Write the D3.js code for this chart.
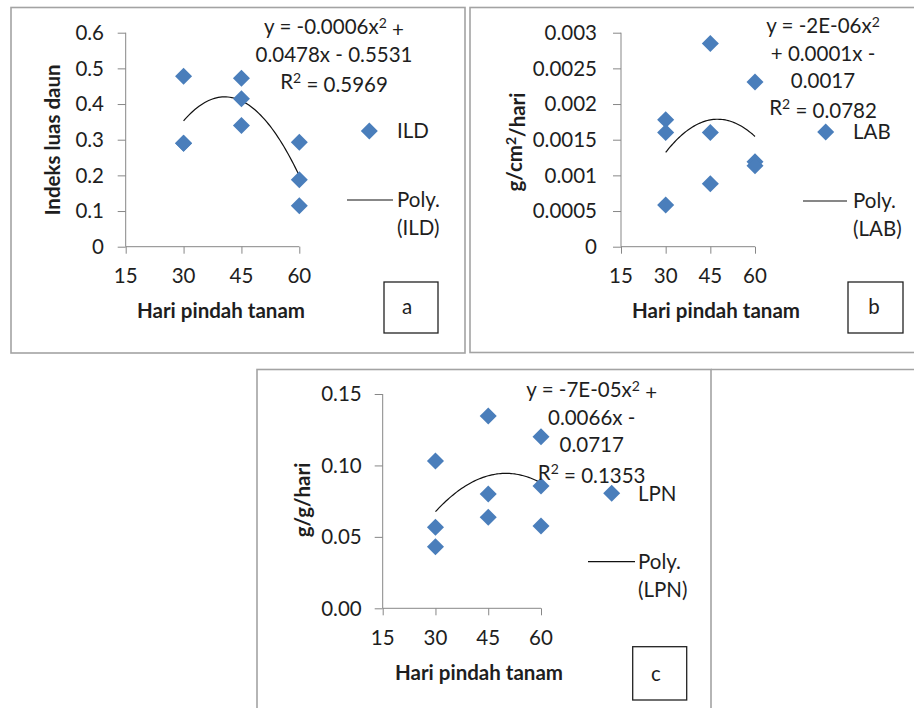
<!DOCTYPE html>
<html>
<head>
<meta charset="utf-8">
<script src="https://cdn.jsdelivr.net/npm/d3@7"></script>
<style>
  body { margin: 0; background: #fff; }
  text { font-family: Lato, "Open Sans", sans-serif; fill: #1e1e1e; }
  .tick-label { font-size: 20.5px; }
  .axis-title { font-size: 20.5px; font-weight: bold; }
</style>
</head>
<body>
<div id="chart"></div>
<script>
// days after transplanting, three replicates per treatment
var xDays = [30, 30, 30, 45, 45, 45, 60, 60, 60];

// leaf area index (ILD)
var ildValues = [0.478, 0.290, 0.290, 0.472, 0.415, 0.340, 0.293, 0.188, 0.115];
// net assimilation rate (LAB)
var labValues = [0.00178, 0.00160, 0.000585, 0.00285, 0.00160, 0.000883, 0.00231, 0.00119, 0.001136];
// relative growth rate (LPN)
var lpnValues = [0.1031, 0.0567, 0.0431, 0.1346, 0.0800, 0.0637, 0.1201, 0.0856, 0.0576];

var xTicks = [15, 30, 45, 60];
var ildTicks = [0, 0.1, 0.2, 0.3, 0.4, 0.5, 0.6];
var ildTickLabels = ["0", "0.1", "0.2", "0.3", "0.4", "0.5", "0.6"];
var labTicks = [0, 0.0005, 0.001, 0.0015, 0.002, 0.0025, 0.003];
var labTickLabels = ["0", "0.0005", "0.001", "0.0015", "0.002", "0.0025", "0.003"];
var lpnTicks = [0, 0.05, 0.10, 0.15];
var lpnTickLabels = ["0.00", "0.05", "0.10", "0.15"];

// "^2" marks a superscript two
var ildEquation = ["y = -0.0006x^2 +", "0.0478x - 0.5531", "R^2 = 0.5969"];
var labEquation = ["y = -2E-06x^2", "+ 0.0001x -", "0.0017", "R^2 = 0.0782"];
var lpnEquation = ["y = -7E-05x^2 +", "0.0066x -", "0.0717", "R^2 = 0.1353"];

var markerColor = "#4a7ebb";
var axisColor = "#878787";

var svg = d3.select("#chart")
  .append("svg")
  .attr("width", 914)
  .attr("height", 708);

// write a label, turning "^2" into a raised small 2
function setRich(sel, str, supSize) {
  str.split("^2").forEach(function(part, i) {
    if (i > 0) {
      sel.append("tspan").attr("dy", "-0.45em").style("font-size", supSize).text("2");
      sel.append("tspan").attr("dy", "0.45em").text(part);
    } else {
      sel.append("tspan").text(part);
    }
  });
}

// least squares quadratic fit y = a x^2 + b x + c
function quadFit(xs, ys) {
  var n = xs.length, s = [0, 0, 0, 0, 0], t = [0, 0, 0];
  for (var i = 0; i < n; i++) {
    var p = 1;
    for (var k = 0; k < 5; k++) { s[k] += p; if (k < 3) t[k] += p * ys[i]; p *= xs[i]; }
  }
  // solve 3x3 normal equations with cramer's rule
  var M = [[s[4], s[3], s[2]], [s[3], s[2], s[1]], [s[2], s[1], s[0]]];
  var R = [t[2], t[1], t[0]];
  function det(m) {
    return m[0][0] * (m[1][1] * m[2][2] - m[1][2] * m[2][1])
         - m[0][1] * (m[1][0] * m[2][2] - m[1][2] * m[2][0])
         + m[0][2] * (m[1][0] * m[2][1] - m[1][1] * m[2][0]);
  }
  var D = det(M);
  return [0, 1, 2].map(function(col) {
    var m = M.map(function(row, r) { return row.map(function(v, c) { return c === col ? R[r] : v; }); });
    return det(m) / D;
  });
}

function drawPanel(cfg) {
  var g = svg.append("g");

  // panel frame
  g.append("rect")
    .attr("x", cfg.frame[0]).attr("y", cfg.frame[1])
    .attr("width", cfg.frame[2]).attr("height", cfg.frame[3])
    .attr("fill", "none").attr("stroke", "#a3a3a3").attr("stroke-width", 1.6);

  var x = d3.scaleLinear().domain([15, 60]).range(cfg.xRange);
  var y = d3.scaleLinear().domain(cfg.yDomain).range(cfg.yRange);

  // y axis
  var yAxis = g.append("g")
    .attr("transform", "translate(" + cfg.xRange[0] + ",0)")
    .call(d3.axisLeft(y).tickValues(cfg.yTicks).tickSize(8).tickFormat(""));
  yAxis.select(".domain").attr("d", "M0," + cfg.yRange[1] + "V" + cfg.yRange[0]);
  yAxis.selectAll("line, path").attr("stroke", axisColor);

  g.selectAll(".ylab")
    .data(cfg.yTicks)
    .enter()
    .append("text")
    .attr("class", "tick-label")
    .attr("x", cfg.yLabelX)
    .attr("y", d => y(d))
    .attr("dy", "0.36em")
    .attr("text-anchor", "end")
    .text((d, i) => cfg.yTickLabels[i]);

  // x axis
  var xAxis = g.append("g")
    .attr("transform", "translate(0," + cfg.yRange[0] + ")")
    .call(d3.axisBottom(x).tickValues(xTicks).tickSize(7).tickFormat(""));
  xAxis.select(".domain").attr("d", "M" + cfg.xRange[0] + ",0H" + cfg.xRange[1]);
  xAxis.selectAll("line, path").attr("stroke", axisColor);

  g.selectAll(".xlab")
    .data(xTicks)
    .enter()
    .append("text")
    .attr("class", "tick-label")
    .attr("x", d => x(d))
    .attr("y", cfg.xLabelY)
    .attr("dy", "0.36em")
    .attr("text-anchor", "middle")
    .text(d => d);

  // axis titles
  g.append("text")
    .attr("class", "axis-title")
    .attr("x", cfg.xTitle[0]).attr("y", cfg.xTitle[1])
    .attr("dy", "0.36em")
    .attr("text-anchor", "middle")
    .text("Hari pindah tanam");

  var yt = g.append("text")
    .attr("class", "axis-title")
    .attr("transform", "translate(" + cfg.yTitle[0] + "," + cfg.yTitle[1] + ") rotate(-90)")
    .attr("dy", "0.36em")
    .attr("text-anchor", "middle");
  setRich(yt, cfg.yTitleText, "14px");

  // polynomial trend line
  var coef = quadFit(xDays, cfg.values);
  var trend = d3.range(30, 60.01, 0.5).map(function(v) {
    return [v, coef[0] * v * v + coef[1] * v + coef[2]];
  });
  g.append("path")
    .datum(trend)
    .attr("fill", "none")
    .attr("stroke", "#111")
    .attr("stroke-width", 1.2)
    .attr("d", d3.line().x(d => x(d[0])).y(d => y(d[1])));

  // markers
  var diamond = d3.symbol().type(d3.symbolSquare).size(145);
  g.selectAll(".pt")
    .data(cfg.values)
    .enter()
    .append("path")
    .attr("d", diamond)
    .attr("transform", (d, i) => "translate(" + x(xDays[i]) + "," + y(d) + ") rotate(45)")
    .attr("fill", markerColor);

  // equation text
  cfg.equation.forEach(function(line, i) {
    var t = g.append("text")
      .attr("class", "tick-label")
      .attr("x", cfg.eqX)
      .attr("y", cfg.eqY + i * cfg.eqStep)
      .attr("dy", "0.36em")
      .attr("text-anchor", "middle");
    setRich(t, line, "14px");
  });

  // legend
  var lg = cfg.legend;
  g.append("path")
    .attr("d", diamond)
    .attr("transform", "translate(" + lg.marker[0] + "," + lg.marker[1] + ") rotate(45)")
    .attr("fill", markerColor);
  g.append("text").attr("class", "tick-label")
    .attr("x", lg.textX).attr("y", lg.marker[1]).attr("dy", "0.36em")
    .text(cfg.name);
  g.append("line")
    .attr("x1", lg.line[0]).attr("x2", lg.line[1])
    .attr("y1", lg.line[2]).attr("y2", lg.line[2])
    .attr("stroke", "#111").attr("stroke-width", 1.2);
  g.append("text").attr("class", "tick-label")
    .attr("x", lg.textX).attr("y", lg.line[2]).attr("dy", "0.36em")
    .text("Poly.");
  g.append("text").attr("class", "tick-label")
    .attr("x", lg.textX).attr("y", lg.line[2] + 28).attr("dy", "0.36em")
    .text("(" + cfg.name + ")");

  // panel letter box
  g.append("rect")
    .attr("x", cfg.box[0]).attr("y", cfg.box[1])
    .attr("width", cfg.box[2]).attr("height", cfg.box[3])
    .attr("fill", "none").attr("stroke", "#222").attr("stroke-width", 1.3);
  g.append("text").attr("class", "tick-label")
    .attr("x", cfg.letter[0]).attr("y", cfg.letter[1]).attr("dy", "0.36em")
    .attr("text-anchor", "middle")
    .text(cfg.letterText);
}

drawPanel({
  name: "ILD", values: ildValues,
  frame: [11, 7.5, 454, 345.5],
  xRange: [125.7, 299.3], yDomain: [0, 0.6], yRange: [246.7, 32.7],
  yTicks: ildTicks, yTickLabels: ildTickLabels,
  yLabelX: 104, xLabelY: 276,
  xTitle: [221, 311], yTitle: [53, 140], yTitleText: "Indeks luas daun",
  equation: ildEquation, eqX: 334, eqY: 27, eqStep: 27.5,
  legend: { marker: [369.3, 131], textX: 397, line: [347, 393, 200] },
  box: [384, 282, 54, 51], letter: [407, 307], letterText: "a"
});

drawPanel({
  name: "LAB", values: labValues,
  frame: [470, 7.5, 460, 345],
  xRange: [621, 755], yDomain: [0, 0.003], yRange: [246.7, 32.7],
  yTicks: labTicks, yTickLabels: labTickLabels,
  yLabelX: 597, xLabelY: 276,
  xTitle: [716, 311], yTitle: [515, 142], yTitleText: "g/cm^2/hari",
  equation: labEquation, eqX: 823, eqY: 26, eqStep: 27.3,
  legend: { marker: [825.7, 132], textX: 853, line: [803, 847, 201] },
  box: [848, 282, 55, 51], letter: [874, 307], letterText: "b"
});

drawPanel({
  name: "LPN", values: lpnValues,
  frame: [257, 369.5, 454, 360],
  xRange: [382.7, 541], yDomain: [0, 0.15], yRange: [608.3, 394],
  yTicks: lpnTicks, yTickLabels: lpnTickLabels,
  yLabelX: 361.7, xLabelY: 637.7,
  xTitle: [479, 672.7], yTitle: [303, 500], yTitleText: "g/g/hari",
  equation: lpnEquation, eqX: 591.7, eqY: 390, eqStep: 27.5,
  legend: { marker: [611.7, 493.3], textX: 638, line: [588, 635, 561.7] },
  box: [632.7, 646.7, 54, 53.3], letter: [656, 674], letterText: "c"
});

// page rule continuing the top of panel c to the right edge
svg.append("line")
  .attr("x1", 711).attr("x2", 914)
  .attr("y1", 369.5).attr("y2", 369.5)
  .attr("stroke", "#a3a3a3").attr("stroke-width", 1.6);
</script>
</body>
</html>
